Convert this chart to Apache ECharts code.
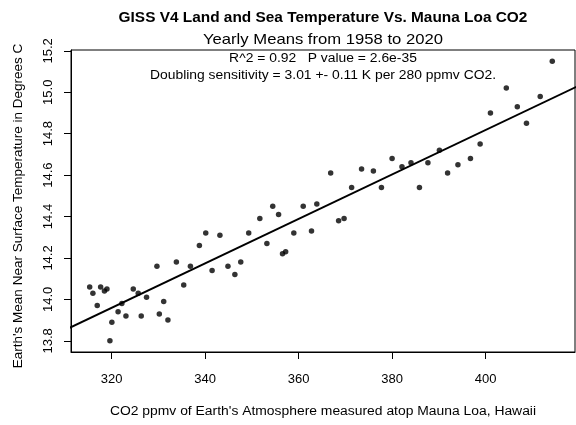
<!DOCTYPE html>
<html>
<head>
<meta charset="utf-8">
<script src="https://cdn.jsdelivr.net/npm/echarts@6/dist/echarts.min.js"></script>
<style>html,body{margin:0;padding:0;background:#fff}#c{width:576px;height:425px}</style>
</head>
<body>
<div id="c"></div>
<script>
const years = [1958,1959,1960,1961,1962,1963,1964,1965,1966,1967,1968,1969,1970,1971,1972,1973,1974,1975,1976,1977,1978,1979,1980,1981,1982,1983,1984,1985,1986,1987,1988,1989,1990,1991,1992,1993,1994,1995,1996,1997,1998,1999,2000,2001,2002,2003,2004,2005,2006,2007,2008,2009,2010,2011,2012,2013,2014,2015,2016,2017,2018,2019,2020];
const co2 = [315.3,315.98,316.91,317.64,318.45,318.99,319.62,320.04,321.37,322.18,323.05,324.62,325.68,326.32,327.46,329.68,330.19,331.13,332.03,333.84,335.41,336.84,338.76,340.12,341.48,343.15,344.87,346.35,347.61,349.31,351.69,353.20,354.45,355.70,356.54,357.21,358.96,360.97,362.74,363.88,366.84,368.54,369.71,371.32,373.45,375.98,377.70,379.98,382.09,384.02,385.83,387.64,390.10,391.85,394.06,396.74,398.81,401.01,404.41,406.76,408.72,411.66,414.24];
const temp = [14.06,14.03,13.97,14.06,14.04,14.05,13.80,13.89,13.94,13.98,13.92,14.05,14.03,13.92,14.01,14.16,13.93,13.99,13.90,14.18,14.07,14.16,14.26,14.32,14.14,14.31,14.16,14.12,14.18,14.32,14.39,14.27,14.45,14.41,14.22,14.23,14.32,14.45,14.33,14.46,14.61,14.38,14.39,14.54,14.63,14.62,14.54,14.68,14.64,14.66,14.54,14.66,14.72,14.61,14.65,14.68,14.75,14.90,15.02,14.93,14.85,14.98,15.15];
const xTicks = [320,340,360,380,400];
const yTicks = [13.8,14.0,14.2,14.4,14.6,14.8,15.0,15.2];
const xRange = [311.3, 419.1];
const yRange = [13.746, 15.204];
const title = "GISS V4 Land and Sea Temperature Vs. Mauna Loa CO2";
const subtitle = "Yearly Means from 1958 to 2020";
const stat1 = "R^2 = 0.92   P value = 2.6e-35";
const stat2 = "Doubling sensitivity = 3.01 +- 0.11 K per 280 ppmv CO2.";
const xName = "CO2 ppmv of Earth's Atmosphere measured atop Mauna Loa, Hawaii";
const yName = "Earth's Mean Near Surface Temperature in Degrees C";

// least squares fit
const n = co2.length;
const mx = co2.reduce((a,b)=>a+b,0)/n, my = temp.reduce((a,b)=>a+b,0)/n;
let sxy=0, sxx=0;
for (let i=0;i<n;i++){ sxy+=(co2[i]-mx)*(temp[i]-my); sxx+=(co2[i]-mx)*(co2[i]-mx); }
const slope = sxy/sxx, icpt = my - slope*mx;
const fitLine = [[xRange[0]-5, icpt+slope*(xRange[0]-5)],[xRange[1]+5, icpt+slope*(xRange[1]+5)]];

const font = '"Liberation Sans", Arial, sans-serif';
const chart = echarts.init(document.getElementById('c'), null, {renderer:'canvas'});
const L=71, R=575, T=50, B=352;
const cx = (L+R)/2;
const SX = 1.11;
function txt(s, x, y, f, extra){
  return Object.assign({type:'text', x:x, y:y, scaleX:SX, style:{text:s, textAlign:'center', textVerticalAlign:'middle', font:f, fill:'#000'}}, extra||{});
}
chart.setOption({
  animation:false,
  backgroundColor:'#fff',
  grid:{left:L, right:576-R, top:T, bottom:425-B, show:true, borderColor:'#000', borderWidth:1},
  xAxis:{type:'value', min:xRange[0], max:xRange[1],
    axisLine:{show:true, lineStyle:{color:'#000'}},
    splitLine:{show:false},
    axisTick:{show:true, length:7, inside:false, customValues:xTicks, lineStyle:{color:'#000'}},
    axisLabel:{customValues:xTicks, margin:21, color:'#000', fontSize:13, fontFamily:font}},
  yAxis:{type:'value', min:yRange[0], max:yRange[1],
    axisLine:{show:true, lineStyle:{color:'#000'}},
    splitLine:{show:false},
    axisTick:{show:true, length:7, inside:false, customValues:yTicks, lineStyle:{color:'#000'}},
    axisLabel:{customValues:yTicks, rotate:90, margin:16, color:'#000', fontSize:13, fontFamily:font,
      formatter:v=>v.toFixed(1)}},
  graphic:[
    txt(title, cx, 18, 'bold 14px '+font, {scaleX:1.1}),
    txt(subtitle, cx, 40, '15px '+font),
    txt(stat1, cx, 59, '12.5px '+font),
    txt(stat2, cx, 76, '12.5px '+font),
    txt(xName, cx, 412, '12.5px '+font),
    {type:'text', x:18, y:(T+B)/2+5, rotation:Math.PI/2, style:{text:yName, textAlign:'center', textVerticalAlign:'middle', font:'13.5px '+font, fill:'#000'}}
  ],
  series:[
    {type:'scatter', data:co2.map((c,i)=>[c,temp[i]]), symbolSize:5.5, itemStyle:{color:'#000'}},
    {type:'line', data:fitLine, showSymbol:false, clip:true, lineStyle:{color:'#000', width:2}}
  ]
});
</script>
</body>
</html>
